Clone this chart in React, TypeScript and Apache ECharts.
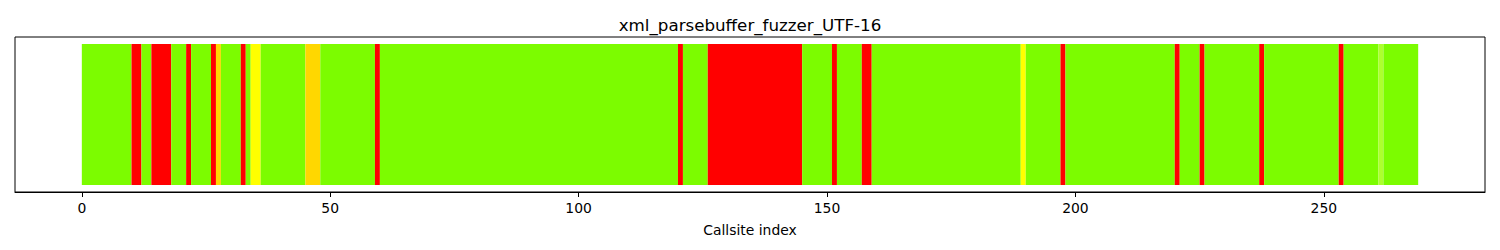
import React, { useEffect, useRef } from "react";
import * as echarts from "echarts";

const title = "xml_parsebuffer_fuzzer_UTF-16";
const xLabel = "Callsite index";
const callsiteCount = 269;
const tickValues = [0, 50, 100, 150, 200, 250];
const redIdx = [10, 11, 14, 15, 16, 17, 21, 26, 32, 59, 120,
  126, 127, 128, 129, 130, 131, 132, 133, 134, 135, 136, 137, 138, 139, 140, 141, 142, 143, 144,
  151, 157, 158, 197, 220, 225, 237, 253];
const yellowIdx = [34, 35, 189];
const goldIdx = [27, 45, 46, 47];
const greenYellowIdx = [261];

const COLORS = {
  green: "#7CFC00",
  red: "#FF0000",
  yellow: "#FFFF00",
  gold: "#FFD700",
  greenYellow: "#ADFF2F",
};

function colorFor(i: number): string {
  if (redIdx.includes(i)) return COLORS.red;
  if (yellowIdx.includes(i)) return COLORS.yellow;
  if (goldIdx.includes(i)) return COLORS.gold;
  if (greenYellowIdx.includes(i)) return COLORS.greenYellow;
  return COLORS.green;
}

export default function App() {
  const ref = useRef<HTMLDivElement>(null);
  useEffect(() => {
    document.body.style.margin = "0";
    if (!ref.current) return;
    const chart = echarts.init(ref.current, null, { renderer: "svg" });
    // Each callsite i is a unit-height bar spanning [i, i+1]; consecutive bars of the same
    // colour are merged into one run so no seams appear between them.
    const data = [] as any[];
    let runStart = 0;
    for (let i = 1; i <= callsiteCount; i++) {
      if (i === callsiteCount || colorFor(i) !== colorFor(runStart)) {
        data.push({ value: [runStart, i, 1], itemStyle: { color: colorFor(runStart) } });
        runStart = i;
      }
    }
    const margin = callsiteCount * 0.05;
    const font = "DejaVu Sans";
    chart.setOption({
      animation: false,
      title: {
        text: title,
        left: "center",
        top: 11,
        textStyle: { fontSize: 16.7, fontWeight: "normal", color: "#000", fontFamily: font },
      },
      grid: {
        left: 15,
        right: 15,
        top: 37,
        bottom: 58,
        show: true,
        borderColor: "#000",
        borderWidth: 1,
        backgroundColor: "transparent",
      },
      xAxis: {
        type: "value",
        min: -margin,
        max: callsiteCount + margin,
        splitLine: { show: false },
        axisLine: { show: true, onZero: false, lineStyle: { color: "#000", width: 1 } },
        axisTick: { show: true, length: 5, lineStyle: { color: "#000", width: 1 }, customValues: tickValues },
        axisLabel: {
          customValues: tickValues,
          margin: 9,
          fontSize: 13.9,
          color: "#000",
          fontFamily: font,
        },
        name: xLabel,
        nameLocation: "middle",
        nameGap: 31,
        nameTextStyle: { fontSize: 13.9, color: "#000", fontFamily: font },
      },
      yAxis: {
        type: "value",
        min: -0.05,
        max: 1.05,
        show: false,
        splitLine: { show: false },
      },
      series: [
        {
          type: "custom",
          renderItem: (params: any, api: any) => {
            const start = api.coord([api.value(0), 0]);
            const end = api.coord([api.value(1), api.value(2)]);
            const color = api.visual("color");
            return {
              type: "rect",
              shape: {
                x: start[0],
                y: end[1],
                width: end[0] - start[0],
                height: start[1] - end[1],
              },
              style: { fill: color },
            };
          },
          encode: { x: [0, 1], y: 2 },
          data,
        },
      ],
    });
    return () => chart.dispose();
  }, []);
  return <div ref={ref} style={{ width: 1500, height: 250 }} />;
}
